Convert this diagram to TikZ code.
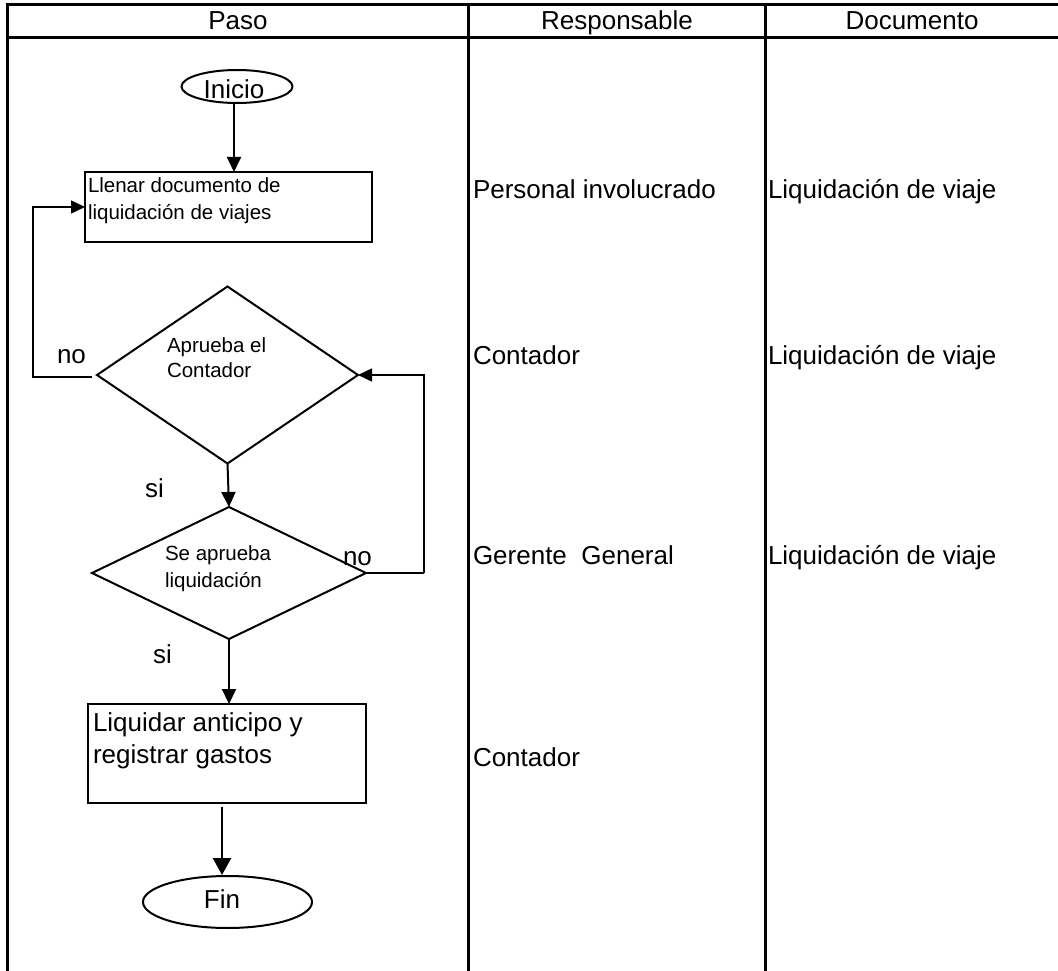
\documentclass[tikz,border=0pt]{standalone}
\usepackage{fontspec}
\setmainfont{Liberation Sans}
\usetikzlibrary{arrows.meta,shapes.geometric}

\begin{document}
\begin{tikzpicture}[x=1pt,y=-1pt,
  big/.style={font=\fontsize{26}{30}\selectfont, inner sep=0pt, outer sep=0pt, anchor=base west},
  small/.style={font=\fontsize{20.5}{26}\selectfont, inner sep=0pt, outer sep=0pt, anchor=base west},
  head/.style={big, anchor=base},
  rulel/.style={line width=3pt},
  boxnode/.style={draw, line width=2pt, rectangle, inner sep=0pt, outer sep=0pt},
  ovalnode/.style={draw, line width=2pt, ellipse, inner sep=0pt, outer sep=0pt},
  decnode/.style={draw, line width=2pt, diamond, inner sep=0pt, outer sep=0pt},
  flow/.style={line width=2pt, -{Triangle[length=15pt,width=14pt]}},
  bigflow/.style={line width=2.5pt, -{Triangle[length=17pt,width=18pt]}},
  back/.style={line width=1.5pt},
  backarrow/.style={line width=1.5pt, -{Triangle[length=14pt,width=13pt]}},
]
\useasboundingbox (0,0) rectangle (1058,971);

% table frame
\coordinate (tl) at (6,4.5);
\coordinate (tr) at (1058,4.5);
\coordinate (hl) at (6,37.5);
\coordinate (hr) at (1058,37.5);
\draw[rulel] (tl) -- (tr);
\draw[rulel] (hl) -- (hr);
\draw[rulel] (7,3) -- (7,971);
\draw[rulel] (468,3) -- (468,971);
\draw[rulel] (765,3) -- (765,971);

% headings
\node[head] (hpaso) at (238,30) {Paso};
\node[head] (hresp) at (617,30) {Responsable};
\node[head] (hdoc) at (912,30) {Documento};

% flowchart shapes
\node[ovalnode, minimum width=111pt, minimum height=33pt] (inicio) at (237,86.5) {};
\node[big, anchor=base] (tinicio) at (234,99) {Inicio};

\node[boxnode, minimum width=287pt, minimum height=70pt] (llenar) at (228.5,207) {};
\node[small] (tllenar1) at (88,193) {Llenar documento de};
\node[small] (tllenar2) at (88,219) {liquidación de viajes};

\node[decnode, minimum width=261pt, minimum height=177pt] (dcont) at (227.5,375) {};
\node[small] (tcont1) at (167,352) {Aprueba el};
\node[small] (tcont2) at (167,377) {Contador};

\node[decnode, minimum width=274pt, minimum height=132pt] (dger) at (229,573) {};
\node[small] (tger1) at (165,560) {Se aprueba};
\node[small] (tger2) at (165,587) {liquidación};

\node[boxnode, minimum width=278pt, minimum height=99pt] (liquidar) at (227,753.5) {};
\node[big] (tliq1) at (93,731) {Liquidar anticipo y};
\node[big] (tliq2) at (93,763) {registrar gastos};

\node[ovalnode, minimum width=169pt, minimum height=52pt] (fin) at (227.5,902) {};
\node[big, anchor=base] (tfin) at (222,908) {Fin};

% connectors
\draw[flow] (inicio.south -| tinicio.south) -- (tinicio.south |- llenar.north);
\draw[flow] (dcont.south) -- (dger.north);
\draw[flow] (dger.south) -- (dger.south |- liquidar.north);
\coordinate (liqout) at (222,807);
\coordinate (finin) at (222,875);
\draw[bigflow] (liqout) -- (finin);

% rejection by the accountant: back to the form
\coordinate (noA) at (92,377);
\coordinate (noB) at (33,377);
\draw[backarrow] (noA) -- (noB) |- (llenar.west);
% rejection by the general manager: back to the accountant
\coordinate (noC) at (424,573);
\draw[back] (dger.east) -- (noC);
\draw[backarrow] (noC) |- (dcont.east);

% branch labels
\node[big] (lno1) at (57,363) {no};
\node[big] (lno2) at (343,565) {no};
\node[big] (lsi1) at (145,497) {si};
\node[big] (lsi2) at (153,663) {si};

% responsible and document columns
\node[big] (r1) at (473,199) {Personal involucrado};
\node[big] (r2) at (473,364) {Contador};
\node[big] (r3) at (473,564) {Gerente\ \ General};
\node[big] (r4) at (473,766) {Contador};
\node[big] (d1) at (768,199) {Liquidación de viaje};
\node[big] (d2) at (768,364) {Liquidación de viaje};
\node[big] (d3) at (768,564) {Liquidación de viaje};
\end{tikzpicture}
\end{document}
